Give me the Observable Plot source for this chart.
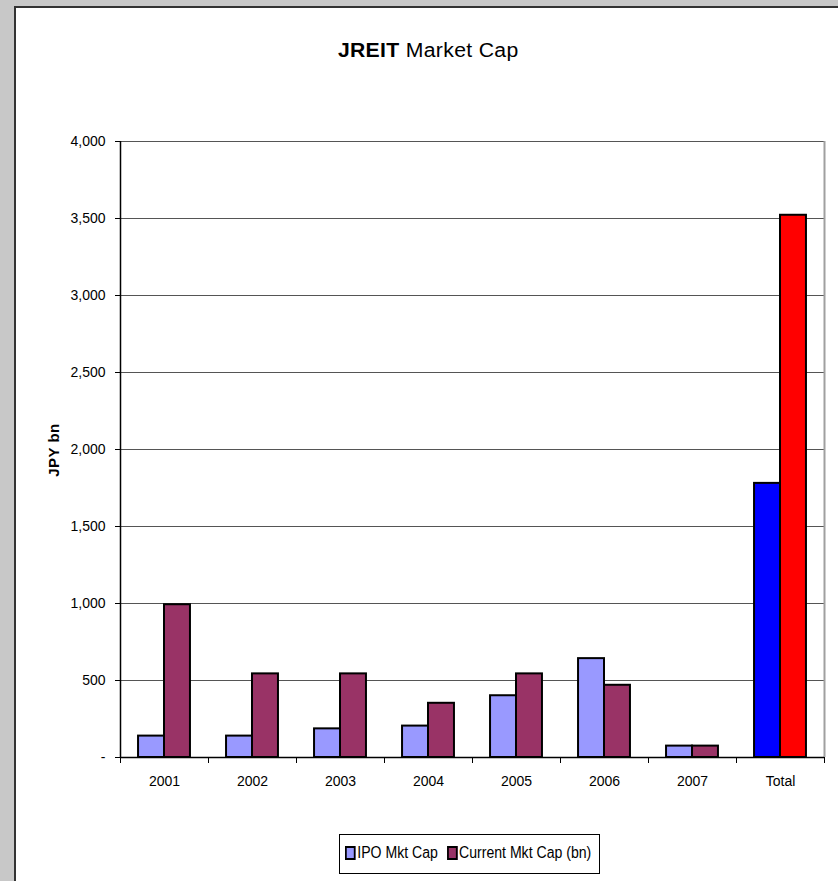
<!DOCTYPE html>
<html>
<head>
<meta charset="utf-8">
<script src="https://cdn.jsdelivr.net/npm/d3@7"></script>
<script src="https://cdn.jsdelivr.net/npm/@observablehq/plot@0.6"></script>
<style>
  html, body { margin: 0; padding: 0; }
  body { width: 838px; height: 881px; background: #c8c8c8; position: relative; overflow: hidden;
         font-family: "Liberation Sans", Arial, sans-serif; }
  #card { position: absolute; left: 14px; top: 6px; width: 840px; height: 900px; background: #fff;
          border-left: 2px solid #333; border-top: 2px solid #333; }
  #title { position: absolute; left: 0; width: 856px; top: 39px; text-align: center; font-size: 20px; color: #000; }
  #title span { display: inline-block; transform: scaleX(1.06); letter-spacing: 0.3px; }
  #ylab { position: absolute; left: 53px; top: 450px; transform: translate(-50%, -50%) rotate(-90deg);
          font-weight: bold; font-size: 15px; white-space: nowrap; letter-spacing: 0.5px; }
  #chart { position: absolute; left: 0; top: 100px; }
  #legend { position: absolute; left: 339px; top: 834px; width: 261px; height: 40px; border: 1px solid #000;
            background: #fff; box-sizing: border-box; overflow: hidden; }
  #legend .inner { position: absolute; left: 5px; top: 9px; display: flex; align-items: center;
            font-size: 16px; white-space: nowrap; transform: scaleX(0.88); transform-origin: left center; }
  .sw { display: inline-block; width: 8px; height: 10px; border: 2px solid #000; margin-right: 2px; }
  .item { display: inline-flex; align-items: center; margin-right: 10px; }
</style>
</head>
<body>
<div id="card"></div>
<div id="title"><span><b>JREIT</b> Market Cap</span></div>
<div id="ylab">JPY bn</div>
<div id="chart"></div>
<div id="legend"><div class="inner">
  <span class="item"><span class="sw" style="background:#9999FF"></span>IPO Mkt Cap</span>
  <span class="item"><span class="sw" style="background:#993366"></span>Current Mkt Cap (bn)</span>
</div></div>
<script>
const categories = ["2001", "2002", "2003", "2004", "2005", "2006", "2007", "Total"];
const ipoMktCap = [139, 139, 186, 204, 401, 642, 74, 1780];
const currentMktCap = [992, 543, 543, 352, 543, 469, 74, 3521];
const yTicks = [0, 500, 1000, 1500, 2000, 2500, 3000, 3500, 4000];

const rows = categories.map((c, i) => ({i, cat: c, ipo: ipoMktCap[i], cur: currentMktCap[i]}));
const half = 0.295; // bar width as a fraction of a category slot
const boundaries = d3.range(categories.length + 1).map(k => k - 0.5);
const fmt = d3.format(",");

const plot = Plot.plot({
  width: 838,
  height: 697,
  marginLeft: 120,
  marginRight: 14,
  marginTop: 41,
  marginBottom: 40,
  style: {fontFamily: '"Liberation Sans", Arial, sans-serif', fontSize: "14px", color: "#000", background: "transparent"},
  x: {type: "linear", domain: [-0.5, categories.length - 0.5]},
  y: {domain: [0, 4000]},
  color: {type: "identity"},
  marks: [
    Plot.ruleY(yTicks.slice(1), {stroke: "#555", strokeWidth: 1}),
    Plot.ruleX([categories.length - 0.5], {y1: 0, y2: 4000, stroke: "#a0a0a0", strokeWidth: 2}),
    Plot.rectY(rows, {x1: d => d.i - half, x2: d => d.i, y1: 0, y2: "ipo",
      fill: d => d.cat === "Total" ? "#0000FF" : "#9999FF", stroke: "#000", strokeWidth: 2}),
    Plot.rectY(rows, {x1: d => d.i, x2: d => d.i + half, y1: 0, y2: "cur",
      fill: d => d.cat === "Total" ? "#FF0000" : "#993366", stroke: "#000", strokeWidth: 2}),
    Plot.ruleY([0], {stroke: "#000", strokeWidth: 1.5}),
    Plot.ruleX([-0.5], {y1: 0, y2: 4000, stroke: "#000", strokeWidth: 1.5}),
    Plot.axisY(yTicks, {tickSize: 5, tickPadding: 10, tickFormat: d => d === 0 ? "-" : fmt(d), label: null, stroke: "#000", fontSize: 14}),
    Plot.axisX(boundaries, {tickSize: 6, tickFormat: () => "", label: null, stroke: "#000"}),
    Plot.axisX(d3.range(categories.length), {tickSize: 0, tickPadding: 19, tickFormat: i => categories[i], label: null, fontSize: 14})
  ]
});
document.getElementById("chart").appendChild(plot);
</script>
</body>
</html>
